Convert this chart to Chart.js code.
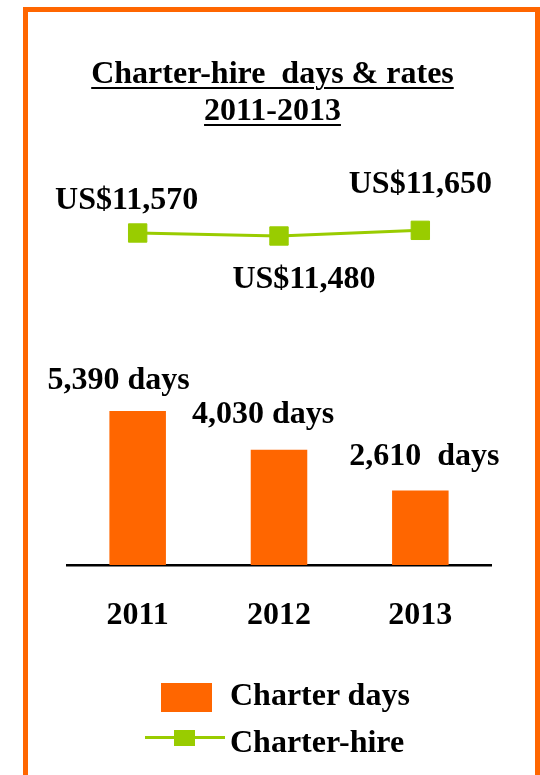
<!DOCTYPE html>
<html>
<head>
<meta charset="utf-8">
<script src="https://cdn.jsdelivr.net/npm/chart.js@4/dist/chart.umd.min.js"></script>
<style>
  html, body { margin: 0; padding: 0; background: #fff; }
  body { width: 540px; height: 775px; position: relative; overflow: hidden;
         font-family: "Liberation Serif", serif; font-weight: bold; color: #000; }
  #frame { position: absolute; left: 23px; top: 7px; width: 507px; height: 800px;
           border: 5px solid #FF6600; }
  #chart { position: absolute; left: 0; top: 0; }
  .title { position: absolute; left: 0; width: 545px; text-align: center; font-size: 32px;
           line-height: 37px; top: 54px; white-space: pre; }
  .title span { text-decoration: underline; text-decoration-thickness: 2px; text-underline-offset: 4px; }
  .leg { position: absolute; font-size: 32px; line-height: 37px; white-space: pre; }
  .box { position: absolute; left: 161px; top: 683px; width: 51px; height: 29px; background: #FF6600; }
  .lline { position: absolute; left: 145px; top: 736px; width: 80px; height: 3px; background: #99CC00; }
  .lmark { position: absolute; left: 174px; top: 730px; width: 21px; height: 16px; background: #99CC00; }
</style>
</head>
<body>
<div id="frame"></div>
<canvas id="chart" width="540" height="775"></canvas>
<div class="title"><span>Charter-hire  days &amp; rates</span><br><span>2011-2013</span></div>
<div class="box"></div>
<div class="leg" style="left:230px; top:676px;">Charter days</div>
<div class="lline"></div>
<div class="lmark"></div>
<div class="leg" style="left:230px; top:723px;">Charter-hire</div>
<script>
// data
const years = ['2011', '2012', '2013'];
const charterDays = [5390, 4030, 2610];
const charterRates = [11570, 11480, 11650];
const dayLabels = ['5,390 days', '4,030 days', '2,610  days'];

// label placement (offsets from the mark, in px)
const dayLabelOffsets = [[-19, -22], [-16, -27], [4, -25]];
const rateLabelOffsets = [[-11, -24], [25, 52], [0, -37]];

const FONT = '"Liberation Serif", serif';

const labelPlugin = {
    id: 'valueLabels',
    afterDatasetsDraw(chart) {
        const ctx = chart.ctx;
        ctx.save();
        ctx.font = 'bold 32px ' + FONT;
        ctx.fillStyle = '#000';
        ctx.textAlign = 'center';
        ctx.textBaseline = 'alphabetic';
        chart.getDatasetMeta(0).data.forEach((el, i) => {
            ctx.fillText(dayLabels[i], el.x + dayLabelOffsets[i][0], el.y + dayLabelOffsets[i][1]);
        });
        chart.getDatasetMeta(1).data.forEach((el, i) => {
            let txt = 'US$' + charterRates[i].toLocaleString('en-US');
            ctx.fillText(txt, el.x + rateLabelOffsets[i][0], el.y + rateLabelOffsets[i][1]);
        });
        ctx.restore();
    }
};

new Chart(document.getElementById('chart').getContext('2d'), {
    data: {
        labels: years,
        datasets: [{
            type: 'bar',
            label: 'Charter days',
            data: charterDays,
            backgroundColor: '#FF6600',
            barPercentage: 0.4,
            categoryPercentage: 1,
            yAxisID: 'y',
            order: 2
        }, {
            type: 'line',
            label: 'Charter-hire',
            data: charterRates,
            borderColor: '#99CC00',
            borderWidth: 3,
            pointStyle: 'rect',
            pointRadius: 13,
            pointBackgroundColor: '#99CC00',
            pointBorderColor: '#99CC00',
            pointBorderWidth: 1,
            tension: 0,
            yAxisID: 'y2',
            order: 1
        }]
    },
    options: {
        responsive: false,
        animation: false,
        devicePixelRatio: 1,
        layout: { padding: { left: 67, right: 49, top: 165, bottom: 110 } },
        plugins: { legend: { display: false }, tooltip: { enabled: false }, title: { display: false } },
        scales: {
            x: {
                grid: { display: false },
                border: { display: true, color: '#000', width: 2.5 },
                ticks: { color: '#000', padding: 24, font: { family: FONT, size: 32, weight: 'bold' } },
                afterFit: (axis) => { axis.height = 100; }
            },
            y: { display: false, min: 0, max: 14000 },
            y2: { display: false, min: 1610, max: 13610 }
        }
    },
    plugins: [labelPlugin]
});
</script>
</body>
</html>
